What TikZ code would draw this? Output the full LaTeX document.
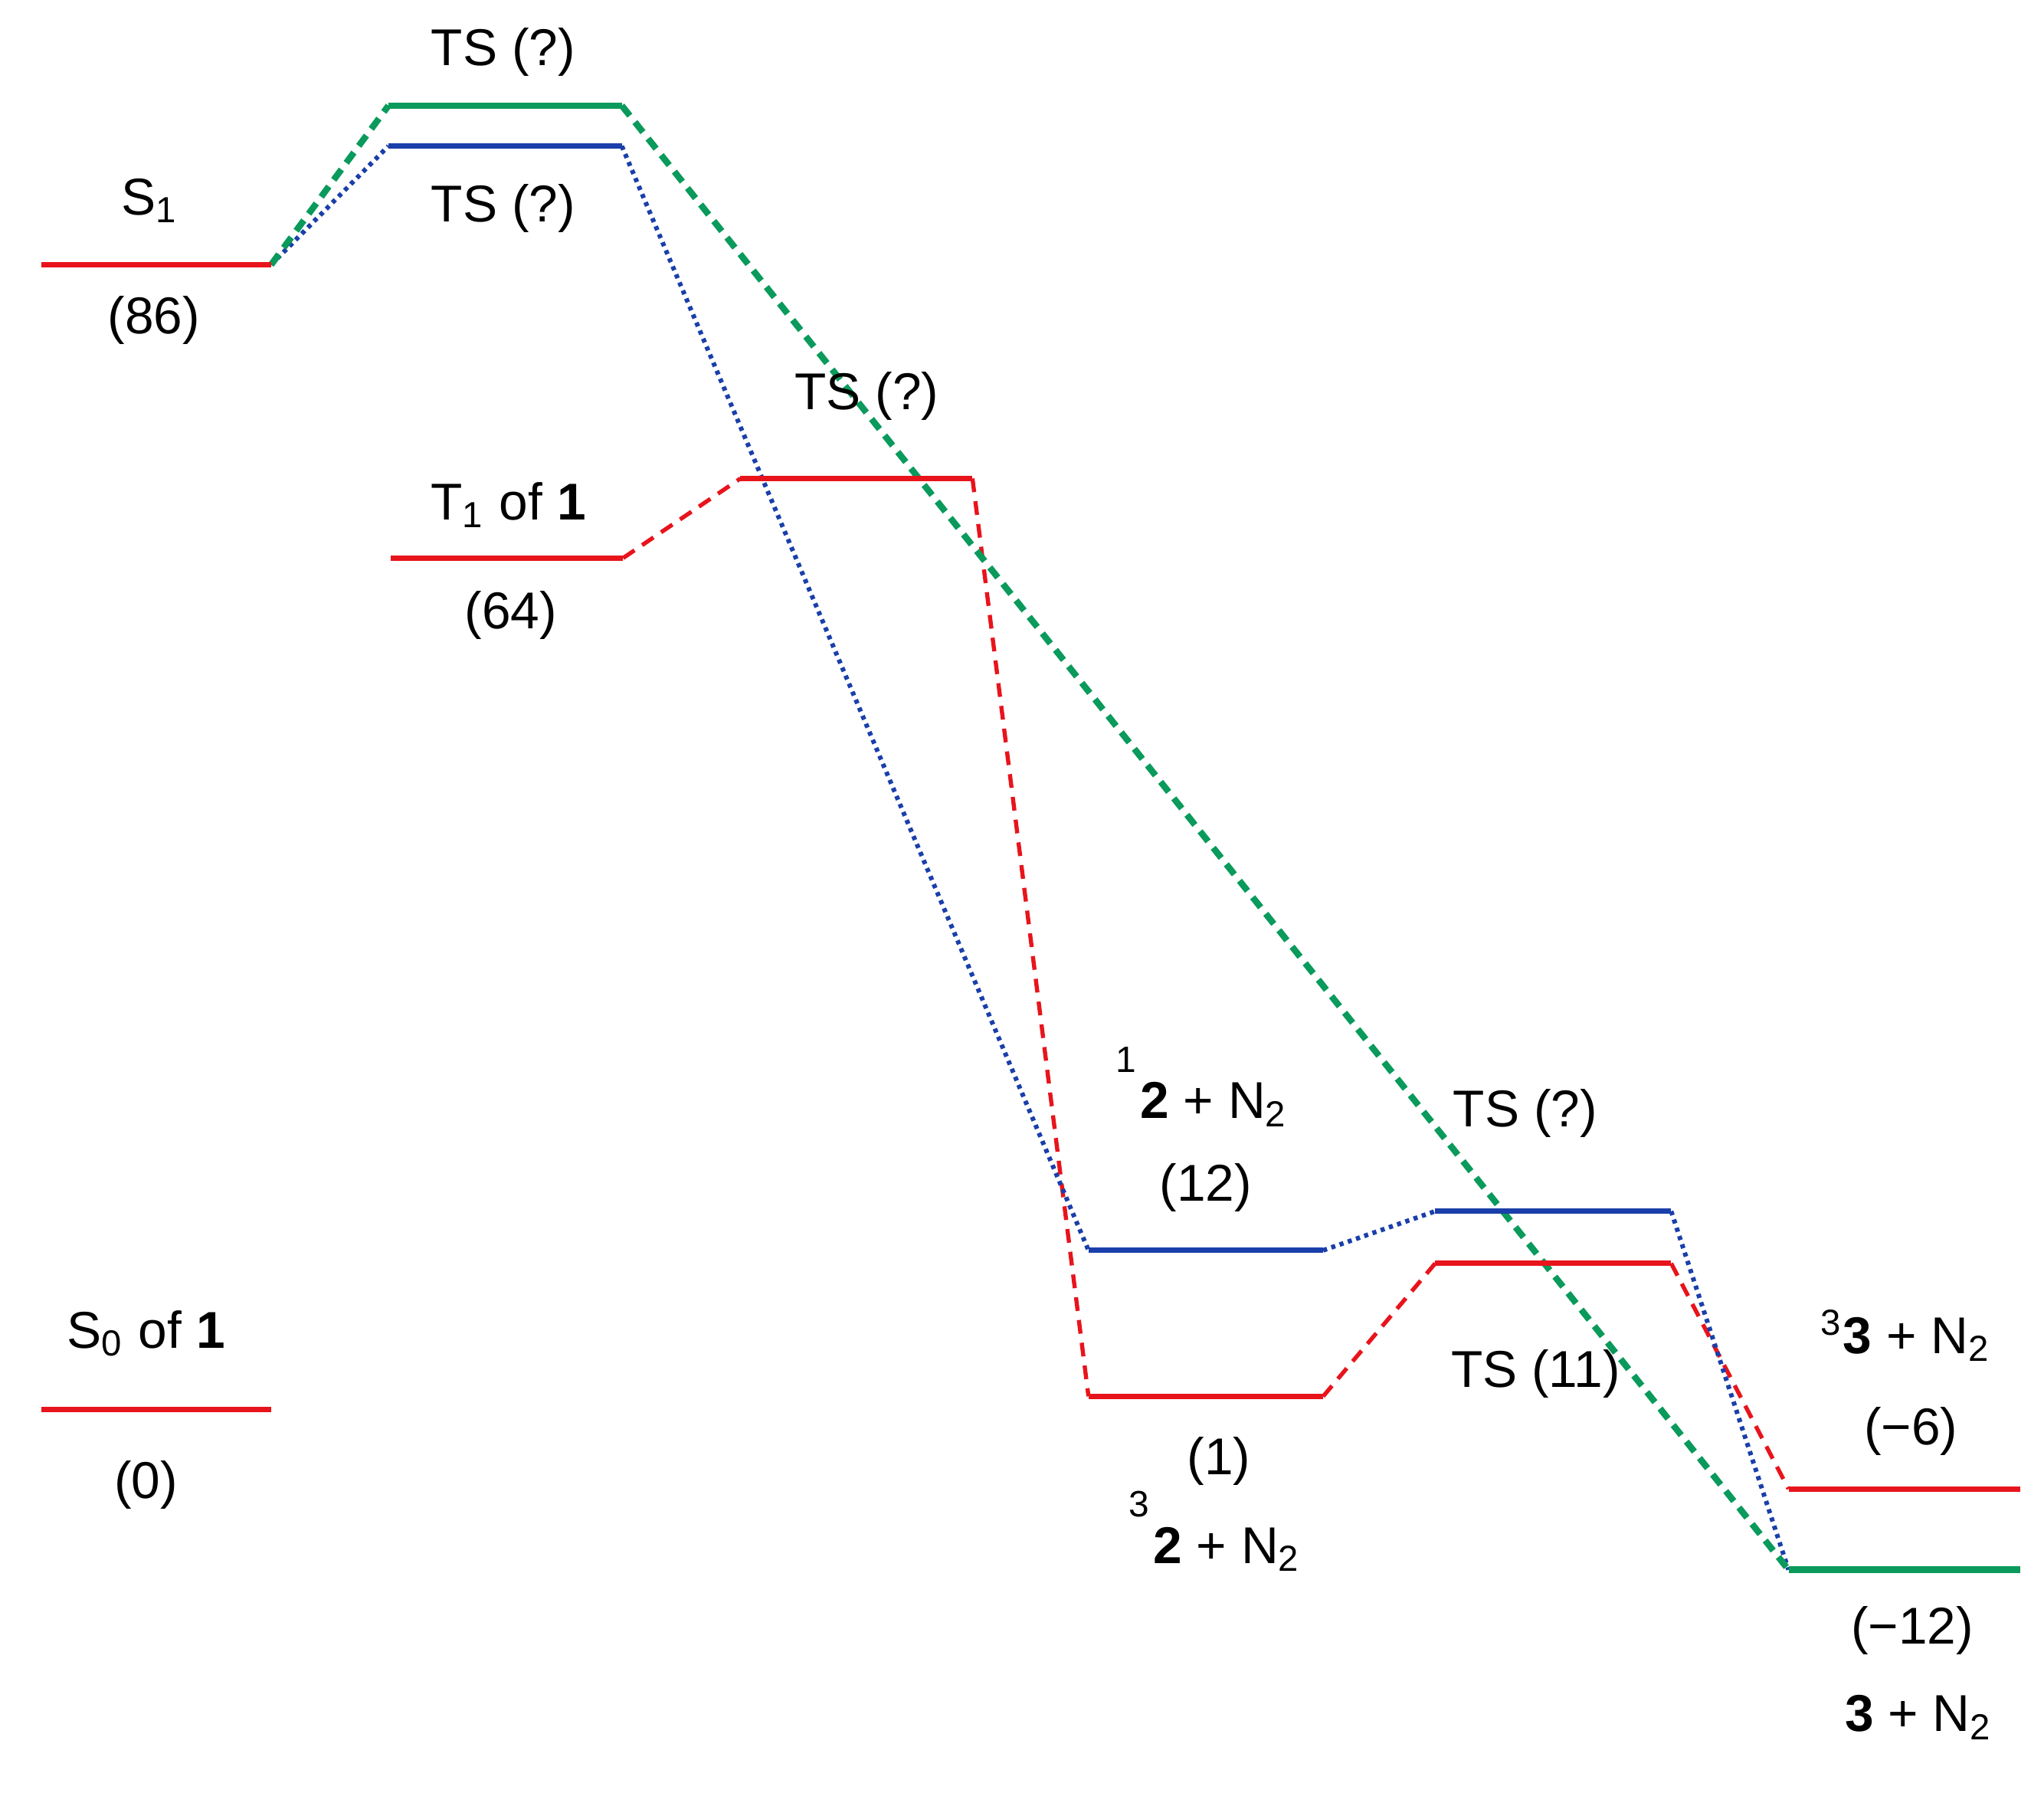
\documentclass[tikz,border=0pt]{standalone}
\usepackage{fontspec}
\setmainfont{Liberation Sans}
\definecolor{cred}{HTML}{E8141C}
\definecolor{cblue}{HTML}{1A3FAA}
\definecolor{cgreen}{HTML}{0A9A5C}
\tikzset{
  lvl/.style={line width=1.15pt},
  redlvl/.style={lvl, draw=cred},
  bluelvl/.style={lvl, draw=cblue},
  greenlvl/.style={line width=1.4pt, draw=cgreen},
  reddash/.style={draw=cred, line width=0.9pt, dash pattern=on 3pt off 2pt},
  greendash/.style={draw=cgreen, line width=1.4pt, dash pattern=on 2.8pt off 1.8pt},
  bluedot/.style={draw=cblue, line width=1pt, dash pattern=on 0.9pt off 1pt},
  lab/.style={font=\fontsize{11.3}{13}\selectfont, inner sep=0pt, anchor=base},
}
\newcommand{\supr}[1]{\raisebox{1.7ex}{\fontsize{8}{8}\selectfont #1}\kern0.08em}
\begin{document}
\begin{tikzpicture}[x=0.01cm, y=-0.01cm]
\useasboundingbox (0,0) rectangle (1568,1375);
% level end points
\coordinate (s1l) at (32,203);   \coordinate (s1r) at (208,203);
\coordinate (tsgl) at (298,81);  \coordinate (tsgr) at (477,81);
\coordinate (tsbl) at (298,112); \coordinate (tsbr) at (477,112);
\coordinate (t1l) at (300,428);  \coordinate (t1r) at (478,428);
\coordinate (tsrl) at (568,367); \coordinate (tsrr) at (746,367);
\coordinate (b2l) at (835,959);  \coordinate (b2r) at (1015,959);
\coordinate (r2l) at (835,1071); \coordinate (r2r) at (1015,1071);
\coordinate (tsb2l) at (1101,929); \coordinate (tsb2r) at (1282,929);
\coordinate (tsr2l) at (1101,969); \coordinate (tsr2r) at (1282,969);
\coordinate (r3l) at (1372,1142); \coordinate (r3r) at (1550,1142);
\coordinate (g3l) at (1372,1204); \coordinate (g3r) at (1550,1204);
\coordinate (s0l) at (32,1081);  \coordinate (s0r) at (208,1081);

% connectors
\draw[reddash] (t1r) -- (tsrl);
\draw[reddash] (tsrr) -- (r2l);
\draw[reddash] (r2r) -- (tsr2l);
\draw[reddash] (tsr2r) -- (r3l);
\draw[bluedot] (s1r) -- (tsbl);
\draw[bluedot] (tsbr) -- (b2l);
\draw[bluedot] (b2r) -- (tsb2l);
\draw[bluedot] (tsb2r) -- (g3l);
\draw[greendash] (s1r) -- (tsgl);
\draw[greendash] (tsgr) -- (g3l);

% levels
\draw[redlvl] (s1l) -- (s1r);
\draw[greenlvl] (tsgl) -- (tsgr);
\draw[bluelvl] (tsbl) -- (tsbr);
\draw[redlvl] (t1l) -- (t1r);
\draw[redlvl] (tsrl) -- (tsrr);
\draw[bluelvl] (b2l) -- (b2r);
\draw[redlvl] (r2l) -- (r2r);
\draw[bluelvl] (tsb2l) -- (tsb2r);
\draw[redlvl] (tsr2l) -- (tsr2r);
\draw[redlvl] (r3l) -- (r3r);
\draw[greenlvl] (g3l) -- (g3r);
\draw[redlvl] (s0l) -- (s0r);

% labels
\node[lab] (l1) at (386,50) {TS (?)};
\node[lab] (l2) at (115,165) {S\textsubscript{1}};
\node[lab] (l3) at (386,170) {TS (?)};
\node[lab] (l4) at (118,256) {(86)};
\node[lab] (l5) at (665,314) {TS (?)};
\node[lab] (l6) at (390,399) {T\textsubscript{1} of \textbf{1}};
\node[lab] (l7) at (392,482) {(64)};
\node[lab] (l8) at (922,858) {\supr{1}\textbf{2} + N\textsubscript{2}};
\node[lab] (l9) at (925,921) {(12)};
\node[lab] (l10) at (1170,864) {TS (?)};
\node[lab] (l11) at (1178,1064) {TS (11)};
\node[lab] (l12) at (935,1131) {(1)};
\node[lab] (l13) at (932,1199) {\supr{3}\textbf{2} + N\textsubscript{2}};
\node[lab] (l14) at (1462,1038) {\textsuperscript{3}\textbf{3} + N\textsubscript{2}};
\node[lab] (l15) at (1466,1108) {(−6)};
\node[lab] (l16) at (1467,1261) {(−12)};
\node[lab] (l17) at (1472,1328) {\textbf{3} + N\textsubscript{2}};
\node[lab] (l18) at (112,1034) {S\textsubscript{0} of \textbf{1}};
\node[lab] (l19) at (112,1149) {(0)};
\end{tikzpicture}
\end{document}
